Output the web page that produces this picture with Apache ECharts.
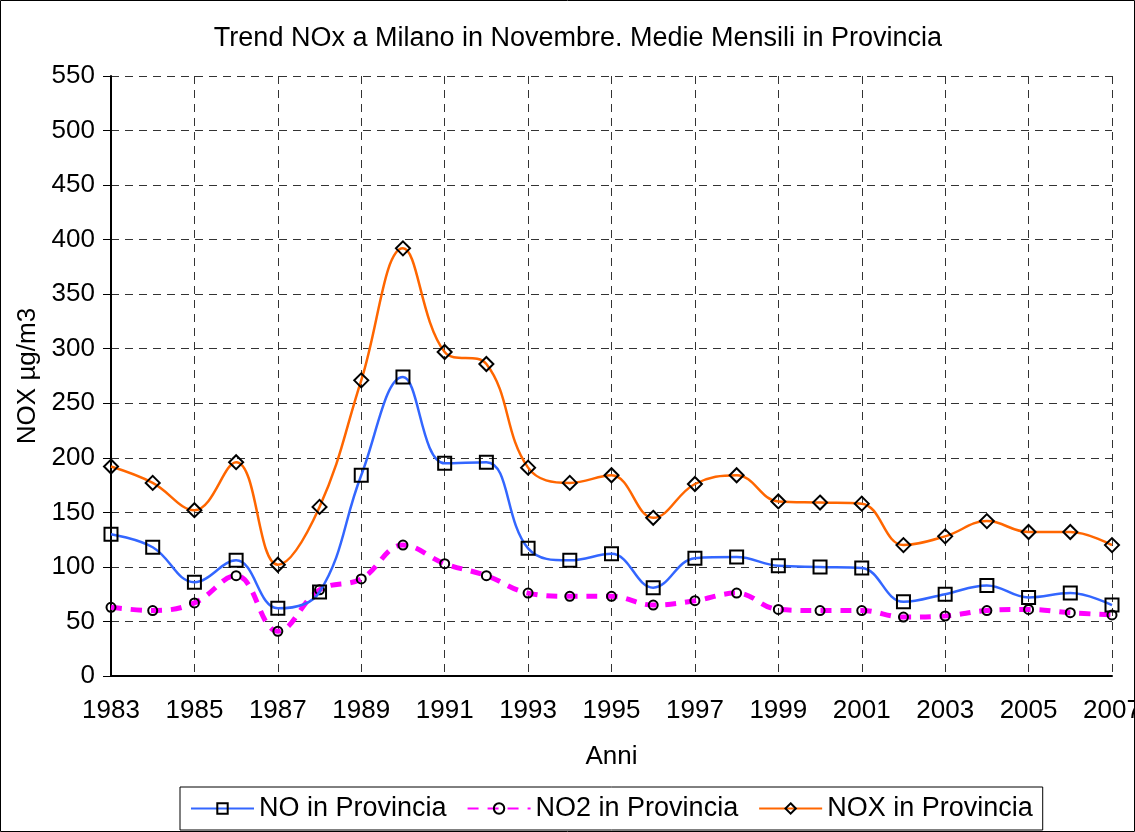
<!DOCTYPE html>
<html>
<head>
<meta charset="utf-8">
<script src="https://cdn.jsdelivr.net/npm/echarts@6/dist/echarts.min.js"></script>
<style>
  html, body { margin: 0; padding: 0; background: #fff; }
  #main { width: 1135px; height: 832px; }
</style>
</head>
<body>
<div id="main"></div>
<script>
// anni e valori medi mensili (µg/m3)
var anni = ['1983', '1984', '1985', '1986', '1987', '1988', '1989', '1990', '1991', '1992', '1993', '1994', '1995',
    '1996', '1997', '1998', '1999', '2000', '2001', '2002', '2003', '2004', '2005', '2006', '2007'];
var noProv = [130, 118, 86, 106, 62, 77, 184, 274, 195, 196, 117, 106, 112, 81, 108, 109, 101, 100, 99, 68, 75, 83, 72, 76, 65];
var no2Prov = [63, 60, 67, 92, 41, 79, 89, 120, 103, 92, 76, 73, 73, 65, 69, 76, 61, 60, 60, 54, 55, 60, 61, 58, 56];
var noxProv = [192, 177, 152, 196, 102, 155, 271, 392, 297, 286, 191, 177, 184, 145, 176, 184, 160, 159, 158, 120, 128, 142, 132, 132, 120];

var font = 'Liberation Sans, Arial, sans-serif';

var chart = echarts.init(document.getElementById('main'));
chart.setOption({
    animation: false,
    backgroundColor: '#fff',
    title: {
        text: 'Trend NOx a Milano in Novembre. Medie Mensili in Provincia',
        left: 573,
        top: 20,
        textAlign: 'center',
        textStyle: { fontFamily: font, fontSize: 27, fontWeight: 'normal', color: '#000' }
    },
    graphic: [{
        type: 'rect',
        shape: { x: 0.5, y: 0.5, width: 1134, height: 831 },
        style: { fill: 'none', stroke: '#000', lineWidth: 1 },
        silent: true
    }],
    legend: {
        top: 787,
        left: 180,
        itemWidth: 63,
        itemHeight: 13,
        itemGap: 20,
        padding: [8, 10, 8, 10],
        borderColor: '#000',
        borderWidth: 1,
        textStyle: { fontFamily: font, fontSize: 27, color: '#000' },
        data: ['NO in Provincia', 'NO2 in Provincia', 'NOX in Provincia']
    },
    grid: { left: 111, right: 23, top: 76, bottom: 156, containLabel: false, outerBoundsMode: 'none' },
    xAxis: {
        type: 'category',
        data: anni,
        boundaryGap: false,
        name: 'Anni',
        nameLocation: 'middle',
        nameGap: 68,
        nameTextStyle: { fontFamily: font, fontSize: 26, color: '#000' },
        axisLine: { lineStyle: { color: '#000', width: 2 } },
        axisTick: { show: false },
        axisLabel: { interval: 1, margin: 22, fontFamily: font, fontSize: 26, color: '#000' },
        splitLine: { show: true, interval: 1, lineStyle: { color: '#333', type: [8, 6], width: 1 } }
    },
    yAxis: {
        type: 'value',
        min: 0,
        max: 550,
        interval: 50,
        name: 'NOX µg/m3',
        nameLocation: 'middle',
        nameGap: 66,
        nameTextStyle: { fontFamily: font, fontSize: 26, color: '#000' },
        axisLine: { show: true, lineStyle: { color: '#000', width: 2 } },
        axisTick: { show: true, length: 8, lineStyle: { color: '#000' } },
        axisLabel: { margin: 16, fontFamily: font, fontSize: 26, color: '#000' },
        splitLine: { show: true, lineStyle: { color: '#333', type: [8, 6], width: 1 } }
    },
    series: [{
        name: 'NO in Provincia',
        type: 'line',
        data: noProv,
        smooth: 0.4,
        symbol: 'rect',
        symbolSize: 13,
        lineStyle: { color: '#3366ff', width: 2.5 },
        itemStyle: { color: 'rgba(255,255,255,0)', borderColor: '#000', borderWidth: 2 },
        z: 3
    }, {
        name: 'NO2 in Provincia',
        type: 'line',
        data: no2Prov,
        smooth: 0.4,
        symbol: 'circle',
        symbolSize: 9,
        lineStyle: { color: '#ff00ff', width: 5, type: [11, 9] },
        itemStyle: { color: 'rgba(255,255,255,0)', borderColor: '#000', borderWidth: 2 },
        z: 2
    }, {
        name: 'NOX in Provincia',
        type: 'line',
        data: noxProv,
        smooth: 0.4,
        symbol: 'diamond',
        symbolSize: 14,
        lineStyle: { color: '#ff6600', width: 2.5 },
        itemStyle: { color: 'rgba(255,255,255,0)', borderColor: '#000', borderWidth: 2 },
        z: 4
    }]
});
</script>
</body>
</html>
